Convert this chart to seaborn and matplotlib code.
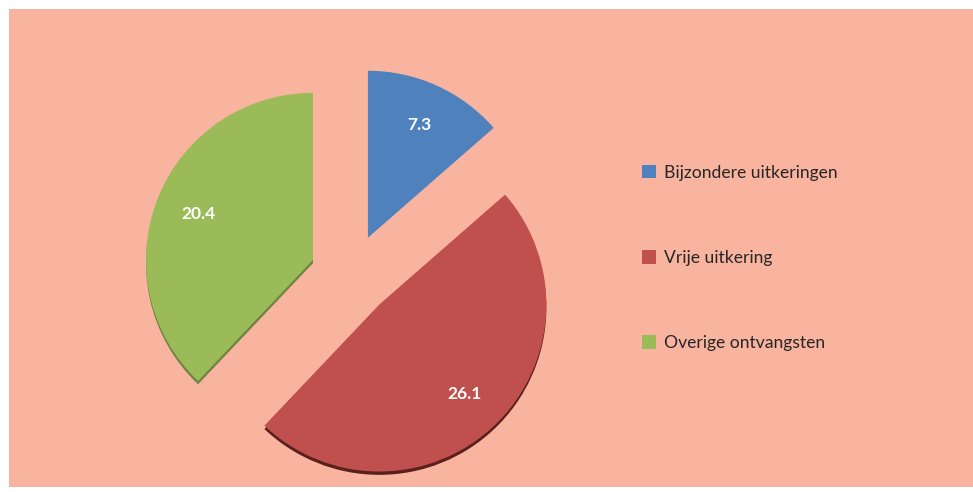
import matplotlib
matplotlib.use("Agg")
import matplotlib.pyplot as plt
import seaborn as sns
from matplotlib.patches import Rectangle

# data
categories = ["Bijzondere uitkeringen", "Vrije uitkering", "Overige ontvangsten"]
values = [7.3, 26.1, 20.4]
colors = ["#4F81BD", "#C0504D", "#9BBB59"]
shadow_colors = ["#00000000", "#5A201E", "#6E8540"]

BG = "#F9B4A0"


def main():
    sns.set_theme(style="white")
    plt.rcParams["font.family"] = ["Lato", "DejaVu Sans"]

    W, H = 973, 492
    fig = plt.figure(figsize=(W / 100, H / 100), dpi=100)
    fig.patch.set_facecolor("white")

    # salmon panel with white margin on left / top / bottom
    fig.patches.append(
        Rectangle((9 / W, 5 / H), (W - 9) / W, (H - 14) / H,
                  transform=fig.transFigure, facecolor=BG, edgecolor="none", zorder=-5)
    )

    # pie axes: centre at (351, 275) px, radius 167 px
    size = 440
    cx, cy = 351, H - 275
    ax = fig.add_axes([(cx - size / 2) / W, (cy - size / 2) / H, size / W, size / H])
    ax.set_facecolor("none")
    lim = size / 2 / 167
    explode = [0.245] * len(values)
    total = sum(values)

    # thin dark edge underneath for the 3d look
    ax.pie(values, colors=shadow_colors, startangle=90, counterclock=False,
           explode=explode, radius=1.0, center=(0.0, -0.02),
           wedgeprops=dict(edgecolor="none"))
    wedges, _, autotexts = ax.pie(
        values, colors=colors, startangle=90, counterclock=False,
        explode=explode, radius=1.0, wedgeprops=dict(edgecolor="none"),
        autopct=lambda p: f"{p * total / 100:.1f}", pctdistance=0.74,
        textprops=dict(color="white", fontsize=12.5, fontweight="bold"),
    )
    ax.set_xlim(-lim, lim)
    ax.set_ylim(-lim, lim)
    ax.set_aspect("equal")
    ax.axis("off")

    fig.legend(
        wedges, categories, loc="center left",
        bbox_to_anchor=(642 / W, (H - 258) / H),
        frameon=False, fontsize=12.6,
        handlelength=0.8, handleheight=0.8, handletextpad=0.45,
        labelspacing=3.95, borderaxespad=0, borderpad=0,
    )

    fig.savefig("out.png", dpi=100, facecolor=fig.get_facecolor())
    plt.close(fig)


if __name__ == "__main__":
    main()
